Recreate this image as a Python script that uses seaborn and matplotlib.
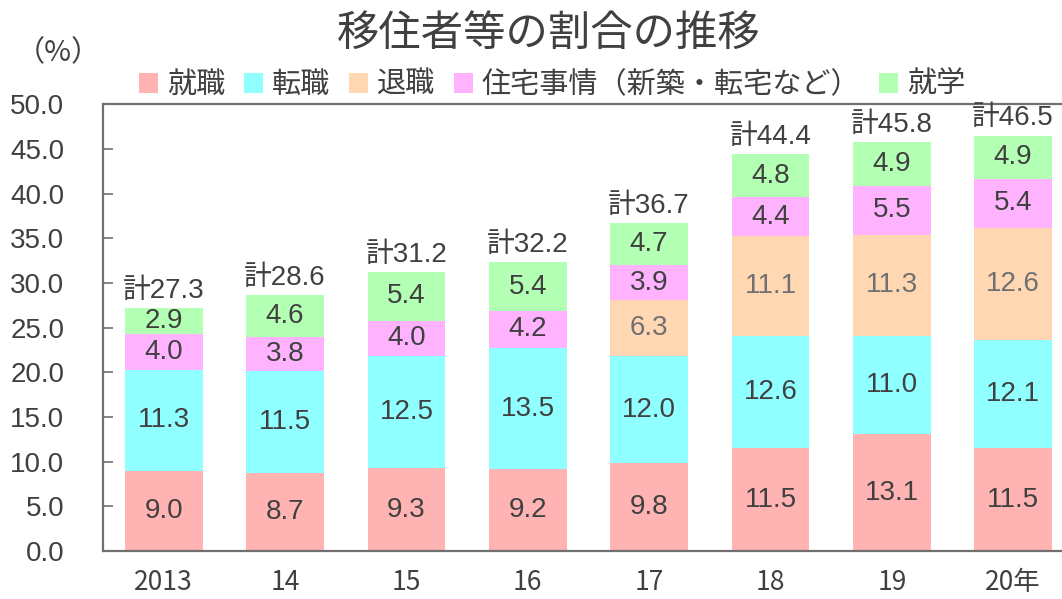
import numpy as np
import matplotlib
matplotlib.use("Agg")
import matplotlib.pyplot as plt
from matplotlib.patches import Patch
import seaborn as sns

# data
years = ["2013", "14", "15", "16", "17", "18", "19", "20年"]
series = ["就職", "転職", "退職", "住宅事情（新築・転宅など）", "就学"]
shushoku = [9.0, 8.7, 9.3, 9.2, 9.8, 11.5, 13.1, 11.5]
tenshoku = [11.3, 11.5, 12.5, 13.5, 12.0, 12.6, 11.0, 12.1]
taishoku = [0.0, 0.0, 0.0, 0.0, 6.3, 11.1, 11.3, 12.6]
jutaku = [4.0, 3.8, 4.0, 4.2, 3.9, 4.4, 5.5, 5.4]
shugaku = [2.9, 4.6, 5.4, 5.4, 4.7, 4.8, 4.9, 4.9]
totals = [27.3, 28.6, 31.2, 32.2, 36.7, 44.4, 45.8, 46.5]

colors = ["#FFB3B3", "#8FFFFF", "#FFD8B3", "#FFB3FF", "#B3FFB3"]
label_colors = ["#404040", "#404040", "#707070", "#404040", "#404040"]

sns.set_theme(style="white")
plt.rcParams["font.family"] = ["Noto Sans CJK JP", "DejaVu Sans"]
num_font = ["Liberation Sans", "Noto Sans CJK JP"]
narrow_font = ["Liberation Sans Narrow", "Noto Sans CJK JP"]
dark = "#404040"
grey = "#707070"

values = np.array([shushoku, tenshoku, taishoku, jutaku, shugaku])
cum = np.cumsum(values, axis=0)

fig = plt.figure(figsize=(10.62, 5.99), dpi=100)
ax = fig.add_axes([0.097, 0.080, 0.905, 0.746])

# stacked bars: draw cumulative heights from the top layer down
for i in reversed(range(len(series))):
    sns.barplot(x=years, y=cum[i], order=years, color=colors[i], saturation=1,
                width=0.64, linewidth=0, ax=ax)

# segment labels
for i in range(len(series)):
    for j in range(len(years)):
        v = values[i, j]
        if v <= 0:
            continue
        ax.text(j, cum[i, j] - v / 2, f"{v:.1f}", ha="center", va="center",
                fontsize=20, color=label_colors[i], family=num_font)

# totals
for j, t in enumerate(totals):
    ax.annotate(f"計{t:.1f}", (j, cum[-1, j]), xytext=(0, 3), textcoords="offset points",
                ha="center", va="bottom", fontsize=20, color=dark, family=num_font)

ax.set_ylim(0, 50)
ax.set_xlim(-0.5, 7.42)
ax.set_yticks(np.arange(0, 50.1, 5))
ax.set_yticklabels([f"{t:.1f}" for t in np.arange(0, 50.1, 5)], fontsize=20, color=dark,
                   family=num_font)
ax.tick_params(axis="y", direction="in", length=7, width=1.2, color=grey, pad=28, left=True)
ax.tick_params(axis="x", length=0, pad=13)
for lab in ax.get_xticklabels():
    lab.set_family(narrow_font)
    lab.set_fontsize(19)
    lab.set_color(dark)
ax.set_xlabel("")
ax.set_ylabel("")

for s in ["left", "bottom", "top"]:
    ax.spines[s].set_visible(True)
    ax.spines[s].set_color(grey)
    ax.spines[s].set_linewidth(1.6)
ax.spines["right"].set_visible(False)

fig.text(0.517, 0.943, "移住者等の割合の推移", ha="center", va="center", fontsize=30.5, color=dark)
fig.text(0.055, 0.912, "（%）", ha="center", va="center", fontsize=21, color=dark)

handles = [Patch(facecolor=c, edgecolor="none") for c in colors]
fig.legend(handles, series, loc="center", bbox_to_anchor=(0.52, 0.858), ncol=5,
           frameon=False, fontsize=21, handlelength=0.65, handleheight=0.65,
           handletextpad=0.3, columnspacing=0.65, labelcolor=dark)

fig.savefig("out.png", dpi=100)
